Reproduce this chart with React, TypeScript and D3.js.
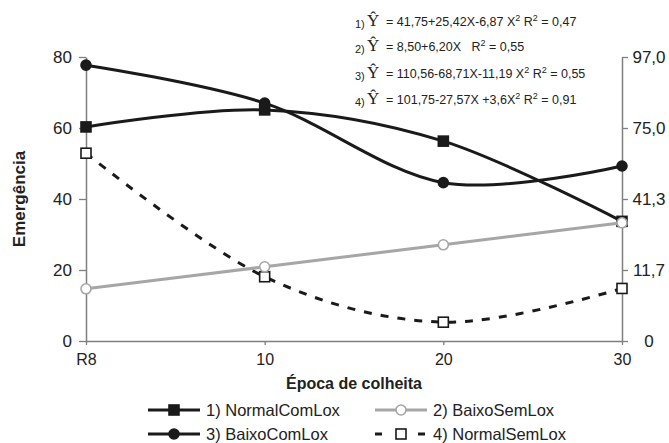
import { useEffect, useRef } from "react";
import * as d3 from "d3";

const categories = ["R8", "10", "20", "30"];
const normalComLox = [60.3, 65.1, 56.3, 33.7];
const baixoSemLox = [14.7, 20.9, 27.1, 33.3];
const baixoComLox = [77.7, 67.0, 44.6, 49.3];
const normalSemLox = [52.9, 18.1, 5.3, 14.8];

const leftTicks = [0, 20, 40, 60, 80];
const rightTickLabels = ["0", "11,7", "41,3", "75,0", "97,0"];
const seriesNames = ["1) NormalComLox", "2) BaixoSemLox", "3) BaixoComLox", "4) NormalSemLox"];
const equationNums = ["1)", "2)", "3)", "4)"];
const equations = [
  "= 41,75+25,42X-6,87 X^2 R^2 = 0,47",
  "= 8,50+6,20X   R^2 = 0,55",
  "= 110,56-68,71X-11,19 X^2 R^2 = 0,55",
  "= 101,75-27,57X +3,6X^2 R^2 = 0,91",
];

const W = 669;
const H = 443;
const FONT = "'Liberation Sans', Arial, sans-serif";

type Series = {
  name: string;
  values: number[];
  color: string;
  marker: "square" | "circle";
  filled: boolean;
  dash?: string;
};

const series: Series[] = [
  { name: seriesNames[0], values: normalComLox, color: "#1a1a1a", marker: "square", filled: true },
  { name: seriesNames[2], values: baixoComLox, color: "#1a1a1a", marker: "circle", filled: true },
  { name: seriesNames[3], values: normalSemLox, color: "#1a1a1a", marker: "square", filled: false, dash: "8,9" },
  { name: seriesNames[1], values: baixoSemLox, color: "#a6a6a6", marker: "circle", filled: false },
];

function drawMarker(g: d3.Selection<SVGGElement, unknown, null, undefined>, s: Series, cx: number, cy: number) {
  if (s.marker === "square") {
    g.append("rect")
      .attr("x", cx - 5)
      .attr("y", cy - 5)
      .attr("width", 10)
      .attr("height", 10)
      .attr("fill", s.filled ? s.color : "#fff")
      .attr("stroke", s.color)
      .attr("stroke-width", 1.6);
  } else {
    g.append("circle")
      .attr("cx", cx)
      .attr("cy", cy)
      .attr("r", 5)
      .attr("fill", s.filled ? s.color : "#fff")
      .attr("stroke", s.color)
      .attr("stroke-width", 1.6);
  }
}

export default function App() {
  const svgRef = useRef<SVGSVGElement | null>(null);

  useEffect(() => {
    const svgEl = svgRef.current;
    if (!svgEl) return;
    const svg = d3.select(svgEl);
    svg.selectAll("*").remove();

    const x = d3.scalePoint<string>().domain(categories).range([86, 622]);
    const y = d3.scaleLinear().domain([0, 80]).range([341, 57]);

    svg.append("rect").attr("width", W).attr("height", H).attr("fill", "#fff");

    // axes
    const axisColor = "#7f7f7f";
    const left = svg
      .append("g")
      .attr("transform", "translate(86,0)")
      .call(d3.axisLeft(y).tickValues(leftTicks).tickSize(7).tickSizeOuter(0).tickPadding(7));
    const right = svg
      .append("g")
      .attr("transform", "translate(622,0)")
      .call(
        d3
          .axisRight(y)
          .tickValues(leftTicks)
          .tickSize(6)
          .tickSizeOuter(0)
          .tickPadding(4)
          .tickFormat((_, i) => rightTickLabels[i])
      );
    const bottom = svg
      .append("g")
      .attr("transform", "translate(0,341)")
      .call(d3.axisBottom(x).tickSize(4).tickSizeOuter(0).tickPadding(9));

    [left, right, bottom].forEach((ax) => {
      ax.select(".domain").attr("stroke", axisColor).attr("stroke-width", 1.5);
      ax.selectAll(".tick line").attr("stroke", axisColor).attr("stroke-width", 1.3);
      ax.selectAll("text").attr("font-family", FONT).attr("font-size", 17).attr("fill", "#222");
    });
    bottom.selectAll("text").attr("font-size", 16);
    // right labels sit centred in their column
    right.selectAll("text").attr("text-anchor", "middle").attr("x", 27);

    // series lines
    const line = d3
      .line<number>()
      .x((_, i) => x(categories[i]) ?? 0)
      .y((d) => y(d))
      .curve(d3.curveCardinal.tension(0));

    series.forEach((s) => {
      const g = svg.append("g");
      g.append("path")
        .attr("d", line(s.values) ?? "")
        .attr("fill", "none")
        .attr("stroke", s.color)
        .attr("stroke-width", 3)
        .attr("stroke-dasharray", s.dash ?? null);
      s.values.forEach((v, i) => drawMarker(g, s, x(categories[i]) ?? 0, y(v)));
    });

    // axis titles
    svg
      .append("text")
      .attr("transform", "translate(25,199) rotate(-90)")
      .attr("text-anchor", "middle")
      .attr("font-family", FONT)
      .attr("font-weight", "bold")
      .attr("font-size", 17)
      .attr("fill", "#222")
      .text("Emergência");
    svg
      .append("text")
      .attr("x", 354)
      .attr("y", 389)
      .attr("text-anchor", "middle")
      .attr("font-family", FONT)
      .attr("font-weight", "bold")
      .attr("font-size", 16)
      .attr("fill", "#222")
      .text("Época de colheita");

    // equations
    const eqBase = [26, 51, 78, 104];
    equations.forEach((eq, i) => {
      const by = eqBase[i];
      svg
        .append("text")
        .attr("x", 355)
        .attr("y", by + 2)
        .attr("font-family", FONT)
        .attr("font-size", 11)
        .attr("fill", "#222")
        .text(equationNums[i]);
      svg
        .append("text")
        .attr("x", 367)
        .attr("y", by)
        .attr("font-family", "'Liberation Serif', 'Times New Roman', serif")
        .attr("font-size", 17)
        .attr("fill", "#222")
        .text("Ŷ");
      const t = svg
        .append("text")
        .attr("x", 386)
        .attr("y", by)
        .attr("font-family", FONT)
        .attr("font-size", 12.5)
        .attr("fill", "#222")
        .style("white-space", "pre");
      const parts = eq.split("^2");
      parts.forEach((p, j) => {
        t.append("tspan").attr("dy", j === 0 ? 0 : 5).text(p);
        if (j < parts.length - 1) {
          t.append("tspan").attr("dy", -5).attr("font-size", 9).text("2");
        }
      });
    });

    // legend
    const legendPos = [
      { x: 148, y: 410 },
      { x: 375, y: 410 },
      { x: 148, y: 434 },
      { x: 375, y: 434 },
    ];
    const legendSeries = [series[0], series[3], series[1], series[2]];
    legendSeries.forEach((s, i) => {
      const p = legendPos[i];
      const g = svg.append("g");
      if (s.dash) {
        g.append("line").attr("x1", p.x).attr("x2", p.x + 7).attr("y1", p.y).attr("y2", p.y).attr("stroke", s.color).attr("stroke-width", 3);
        g.append("line").attr("x1", p.x + 43).attr("x2", p.x + 50).attr("y1", p.y).attr("y2", p.y).attr("stroke", s.color).attr("stroke-width", 3);
      } else {
        g.append("line").attr("x1", p.x).attr("x2", p.x + 52).attr("y1", p.y).attr("y2", p.y).attr("stroke", s.color).attr("stroke-width", 3);
      }
      drawMarker(g, s, p.x + 26, p.y);
      g.append("text")
        .attr("x", p.x + 58)
        .attr("y", p.y + 6)
        .attr("font-family", FONT)
        .attr("font-size", 16.5)
        .attr("fill", "#222")
        .text(s.name);
    });
  }, []);

  return (
    <svg
      ref={svgRef}
      width={W}
      height={H}
      style={{ position: "absolute", left: 0, top: 0 }}
      role="img"
      aria-label="Emergência por época de colheita"
    />
  );
}
